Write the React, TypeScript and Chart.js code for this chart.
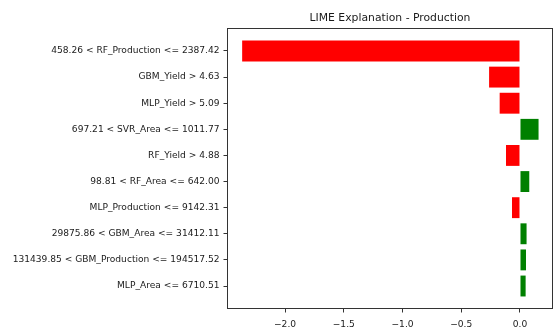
import React, { useEffect, useRef } from "react";
import { Chart, registerables } from "chart.js";

Chart.register(...registerables);

const chartTitle = "LIME Explanation - Production";

const features = [
  "458.26 < RF_Production <= 2387.42",
  "GBM_Yield > 4.63",
  "MLP_Yield > 5.09",
  "697.21 < SVR_Area <= 1011.77",
  "RF_Yield > 4.88",
  "98.81 < RF_Area <= 642.00",
  "MLP_Production <= 9142.31",
  "29875.86 < GBM_Area <= 31412.11",
  "131439.85 < GBM_Production <= 194517.52",
  "MLP_Area <= 6710.51",
];

const weights = [-2.365, -0.263, -0.173, 0.158, -0.119, 0.079, -0.068, 0.056, 0.051, 0.048];

const xTickValues = [-2.0, -1.5, -1.0, -0.5, 0.0];

const POS_COLOR = "#008000";
const NEG_COLOR = "#ff0000";

export default function App() {
  const ref = useRef<HTMLCanvasElement>(null);

  useEffect(() => {
    if (!ref.current) return;

    const framePlugin = {
      id: "frame",
      afterDatasetsDraw(chart: any) {
        const { ctx, chartArea: a } = chart;
        ctx.save();
        ctx.strokeStyle = "#333333";
        ctx.lineWidth = 1;
        const l = Math.round(a.left) + 0.5;
        const t = Math.round(a.top) + 0.5;
        const r = Math.round(a.right) - 0.5;
        const b = Math.round(a.bottom) - 0.5;
        ctx.strokeRect(l, t, r - l, b - t);
        ctx.restore();
      },
    };

    const titlePlugin = {
      id: "plotTitle",
      afterDraw(chart: any) {
        const { ctx, chartArea: a } = chart;
        ctx.save();
        ctx.fillStyle = "#1a1a1a";
        ctx.font = "10.8px 'DejaVu Sans'";
        ctx.textAlign = "center";
        ctx.textBaseline = "alphabetic";
        ctx.fillText(chartTitle, (a.left + a.right) / 2, 20.5);
        ctx.restore();
      },
    };

    const chart = new Chart(ref.current, {
      type: "bar",
      data: {
        datasets: [
          {
            data: weights.map((w, i) => ({ x: w, y: i })),
            backgroundColor: weights.map((w) => (w >= 0 ? POS_COLOR : NEG_COLOR)),
            borderWidth: 0,
            barPercentage: 0.8,
            categoryPercentage: 1.0,
          },
        ],
      },
      options: {
        indexAxis: "y",
        responsive: false,
        animation: false,
        layout: { padding: { top: 28, right: 1, left: 0, bottom: 0 } },
        plugins: {
          legend: { display: false },
          title: { display: false },
          tooltip: { enabled: false },
        },
        scales: {
          x: {
            type: "linear",
            min: -2.494,
            max: 0.281,
            offset: false,
            afterBuildTicks: (scale: any) => {
              scale.ticks = xTickValues.map((v) => ({ value: v }));
            },
            afterFit: (scale: any) => {
              scale.height = 22;
            },
            grid: {
              display: true,
              offset: false,
              drawOnChartArea: false,
              drawTicks: true,
              tickLength: 3.5,
              color: "#333333",
            },
            border: { display: false },
            ticks: {
              padding: 7,
              color: "#1a1a1a",
              font: { family: "'DejaVu Sans'", size: 9.1 },
              maxRotation: 0,
              autoSkip: false,
              callback: (v: any) => {
                const n = Number(v);
                return (n < -1e-9 ? "\u2212" : "") + Math.abs(n).toFixed(1);
              },
            },
          },
          y: {
            type: "linear",
            reverse: true,
            min: -0.88,
            max: 9.88,
            offset: false,
            afterBuildTicks: (scale: any) => {
              scale.ticks = features.map((_, i) => ({ value: i }));
            },
            afterFit: (scale: any) => {
              scale.width = 227;
            },
            grid: {
              display: true,
              offset: false,
              drawOnChartArea: false,
              drawTicks: true,
              tickLength: 3.5,
              color: "#333333",
            },
            border: { display: false },
            ticks: {
              padding: 4,
              color: "#1a1a1a",
              font: { family: "'DejaVu Sans'", size: 9.1 },
              autoSkip: false,
              callback: (v: any) => features[Math.round(Number(v))] ?? "",
            },
          },
        },
      },
      plugins: [framePlugin, titlePlugin],
    } as any);

    return () => chart.destroy();
  }, []);

  return (
    <div style={{ position: "absolute", left: 0, top: 0, width: 554, height: 331, background: "#fff" }}>
      <canvas ref={ref} width={554} height={331} style={{ display: "block" }} />
    </div>
  );
}
